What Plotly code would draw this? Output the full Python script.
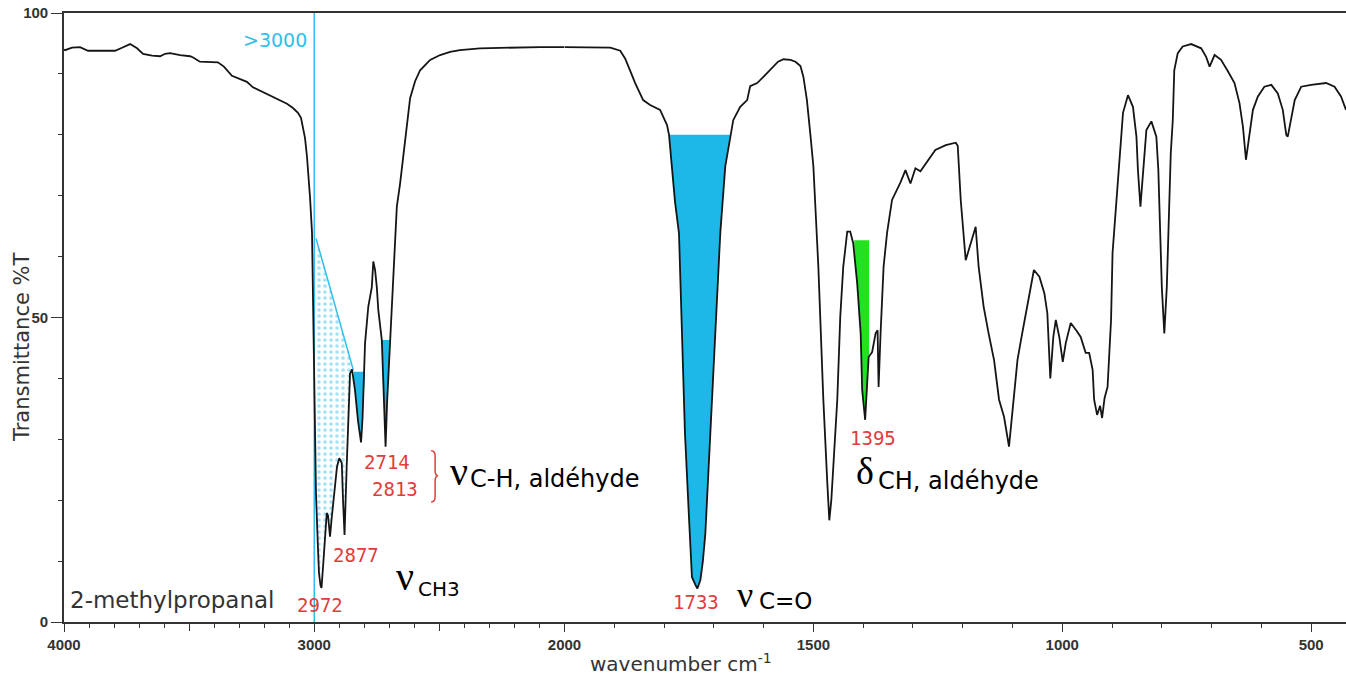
import numpy as np
import plotly.graph_objects as go

# ---------------- data ----------------
wavenumber = [
    4000, 3996, 3968, 3936, 3904, 3796, 3768, 3736, 3708, 3684, 3648, 3616, 3596, 3576,
    3536, 3496, 3484, 3457, 3385, 3361, 3329, 3297, 3269, 3245, 3209, 3177, 3145, 3109,
    3085, 3065, 3053, 3045, 3037, 3029, 3021, 3017, 3009, 3005, 3001, 2993, 2985, 2981,
    2975, 2971, 2965, 2957, 2950, 2945, 2937, 2930, 2917, 2909, 2900, 2890, 2885, 2879,
    2870, 2865, 2857, 2849, 2837, 2825, 2817, 2813, 2807, 2797, 2784, 2770, 2764, 2757,
    2750, 2744, 2730, 2721, 2715, 2709, 2697, 2684, 2677, 2670, 2657, 2645, 2633, 2617,
    2597, 2577, 2537, 2497, 2457, 2418, 2338, 2258, 2178, 2098, 2000,
    1949, 1908, 1888, 1878, 1868, 1858, 1842, 1828, 1808, 1794, 1790, 1784, 1778, 1770,
    1764, 1758, 1750, 1744, 1737, 1733, 1727, 1722, 1717, 1707, 1697, 1687, 1677, 1667,
    1661, 1647, 1633, 1627, 1613, 1597, 1583, 1571, 1560, 1546, 1536, 1526, 1520, 1513,
    1506, 1500, 1490, 1480, 1472, 1468, 1464, 1460, 1452, 1446, 1440, 1432, 1426, 1420,
    1412, 1405, 1402, 1396, 1393, 1389, 1382, 1375, 1371, 1369, 1365, 1359, 1352, 1342,
    1325, 1315, 1305, 1295, 1285, 1269, 1255, 1234, 1214, 1210, 1204, 1194, 1188, 1181,
    1174, 1168, 1158, 1148, 1137, 1127, 1117, 1107, 1097, 1090, 1083, 1070, 1057, 1046,
    1036, 1030, 1024, 1018, 1013, 1006, 999, 993, 983, 972, 963, 953, 946, 939, 936, 930,
    924, 920, 915, 909, 902, 899, 892, 885, 878, 868, 858, 851, 848, 843, 838, 831, 821,
    811, 807, 803, 800, 795, 790, 787, 782, 778, 775, 768, 758, 741, 721, 711, 704, 694,
    681, 667, 654, 644, 637, 631, 624, 617, 607, 594, 580, 567, 557, 550, 547, 540, 533,
    520, 500, 470, 453, 440, 430,
]
transmittance = [
    94.0, 93.9, 94.3, 94.4, 93.8, 93.8, 94.3, 94.9, 94.2, 93.3, 93.0, 92.9, 93.3, 93.4,
    93.1, 92.9, 92.7, 92.0, 91.9, 91.2, 89.7, 89.2, 88.7, 87.8, 87.1, 86.5, 85.8, 85.1,
    84.4, 83.6, 82.8, 81.3, 79.5, 76.4, 72.5, 69.8, 64.0, 52.0, 36.0, 21.0, 12.0, 8.0,
    6.0, 5.6, 9.0, 14.6, 17.9, 17.5, 14.0, 17.2, 22.2, 25.5, 26.9, 26.1, 20.0, 14.3,
    26.0, 33.0, 40.8, 41.5, 38.0, 33.0, 30.2, 29.5, 33.5, 45.8, 51.8, 55.0, 59.2, 57.8,
    55.0, 51.2, 46.3, 36.0, 28.8, 36.0, 46.3, 57.8, 63.3, 68.2, 72.0, 76.0, 81.0, 86.0,
    88.8, 90.6, 92.3, 93.1, 93.6, 93.9, 94.2, 94.3, 94.3, 94.4, 94.4,
    94.4, 94.3, 93.8, 92.5, 90.5, 88.5, 85.7, 84.9, 84.1, 81.6, 80.0, 74.8, 69.0, 63.8,
    47.4, 31.0, 17.3, 7.4, 6.1, 5.5, 6.9, 10.0, 14.6, 31.0, 47.5, 63.9, 74.8, 80.0,
    82.4, 84.6, 85.7, 88.0, 88.5, 89.8, 91.0, 92.0, 92.4, 92.3, 92.0, 91.3, 89.5, 85.7,
    80.0, 74.8, 58.3, 36.5, 22.8, 16.7, 20.0, 25.5, 36.5, 50.1, 58.3, 64.1, 64.1, 62.2,
    55.6, 47.4, 38.1, 33.2, 38.6, 43.5, 44.3, 47.4, 47.9, 38.6, 47.4, 58.3, 63.9, 69.3,
    72.2, 74.2, 72.0, 74.5, 74.0, 75.9, 77.5, 78.3, 78.7, 78.2, 69.3, 59.4, 61.0, 62.7,
    64.9, 58.3, 51.8, 47.4, 43.0, 36.5, 33.7, 28.8, 36.5, 43.0, 46.3, 52.4, 57.8, 56.7,
    54.0, 50.7, 40.0, 46.8, 49.6, 46.8, 42.7, 45.8, 49.1, 47.9, 46.8, 44.2, 44.2, 41.4, 36.5, 34.0,
    35.5, 33.5, 36.8, 38.6, 49.6, 60.6, 68.8, 77.0, 83.6, 86.5, 84.6, 79.7, 74.2, 68.2, 74.2, 80.8, 82.2,
    79.7, 74.2, 64.9, 55.0, 47.4, 55.0, 63.3, 77.0, 82.4, 90.6, 93.4, 94.5, 94.9, 94.2, 92.8, 91.2, 93.1,
    92.3, 90.4, 88.5, 85.2, 81.3, 75.9, 79.7, 84.1, 86.3, 87.9, 88.2, 86.8, 84.1, 80.0, 79.7, 83.0, 85.7,
    87.9, 88.2, 88.5, 87.9, 86.3, 84.1,
]

# axis tick values
upper_labels = [4000, 3000, 2000]
upper_long_unlabelled = [3500, 2500]
lower_labels = [1500, 1000, 500]
y_labels = [0, 50, 100]

# shaded bands: (high wavenumber, low wavenumber, top level %T)
co_band = (1790, 1667, 80.0)
ch_aldehyde_bands = [(2842, 2797, 41.1), (2730, 2697, 46.3)]
dch_band = (1418, 1388, 62.7)
# dotted C-H (>3000 baseline) region: straight baseline end points
baseline_wn = [2993, 2844]
baseline_T = [63.0, 41.4]
marker_wn = 3000

x_break = 2000
x_start, x_end = 4000, 430

# ---------------- helpers ----------------
wn = np.array(wavenumber, dtype=float)
T = np.array(transmittance, dtype=float)
wn_inc, T_inc = wn[::-1], T[::-1]


def curve_at(x):
    return float(np.interp(x, wn_inc, T_inc))


def band_polygon(hi, lo, top):
    m = (wn < hi) & (wn > lo)
    xs = np.concatenate(([hi], wn[m], [lo, lo, hi]))
    ys = np.concatenate(([min(curve_at(hi), top)], np.minimum(T[m], top),
                         [min(curve_at(lo), top), top, top]))
    return xs, ys


W, H = 1346, 677
L, R, TOP, BOT = 64, 0, 13, 55
plot_w = W - L - R
plot_h = H - TOP - BOT
split = 500.5 / plot_w


def pp(px, py):
    return (px - L) / plot_w, (H - BOT - py) / plot_h


CYAN = "#2EBFEA"
FILL_CYAN = "#1DB8E8"
GREEN = "#22E022"
RED = "#E23C3C"

fig = go.Figure()

# dotted region (left of 2850, under the >3000 baseline)
hi_b, lo_b = baseline_wn[0], baseline_wn[1]
m = (wn > lo_b) & (wn < hi_b)
dx = np.concatenate(([hi_b, lo_b], wn[m][::-1], [hi_b]))
dy = np.concatenate(([baseline_T[0], baseline_T[1]], T[m][::-1], [curve_at(hi_b)]))
fig.add_trace(go.Scatter(x=dx, y=dy, mode="lines", fill="toself",
                         fillcolor="rgba(0,0,0,0)", line=dict(width=0),
                         fillpattern=dict(shape=".", fgcolor="#4CC6EE",
                                          bgcolor="rgba(255,255,255,0)",
                                          size=6, solidity=0.3),
                         xaxis="x", yaxis="y", hoverinfo="skip"))
fig.add_trace(go.Scatter(x=baseline_wn, y=baseline_T, mode="lines",
                         line=dict(color=CYAN, width=1.5), xaxis="x", yaxis="y",
                         hoverinfo="skip"))

# cyan C-H aldehyde bands
for hi, lo, top in ch_aldehyde_bands:
    bx, by = band_polygon(hi, lo, top)
    fig.add_trace(go.Scatter(x=bx, y=by, mode="lines", fill="toself",
                             fillcolor=FILL_CYAN, line=dict(width=0),
                             xaxis="x", yaxis="y", hoverinfo="skip"))

# C=O band
bx, by = band_polygon(*co_band)
fig.add_trace(go.Scatter(x=bx, y=by, mode="lines", fill="toself",
                         fillcolor=FILL_CYAN, line=dict(width=0),
                         xaxis="x2", yaxis="y", hoverinfo="skip"))
# delta CH band
bx, by = band_polygon(*dch_band)
fig.add_trace(go.Scatter(x=bx, y=by, mode="lines", fill="toself",
                         fillcolor=GREEN, line=dict(width=0),
                         xaxis="x2", yaxis="y", hoverinfo="skip"))

# 3000 marker line
fig.add_trace(go.Scatter(x=[marker_wn, marker_wn], y=[0, 100], mode="lines",
                         line=dict(color=CYAN, width=1.5), xaxis="x", yaxis="y",
                         hoverinfo="skip"))

# spectrum (two segments, two x scales)
m1 = wn >= x_break
m2 = wn <= x_break
fig.add_trace(go.Scatter(x=wn[m1], y=T[m1], mode="lines",
                         line=dict(color="#151515", width=1.8), xaxis="x", yaxis="y"))
fig.add_trace(go.Scatter(x=wn[m2], y=T[m2], mode="lines",
                         line=dict(color="#151515", width=1.8), xaxis="x2", yaxis="y"))
# empty trace so the overlay axis (long unlabelled ticks) is drawn
fig.add_trace(go.Scatter(x=[], y=[], xaxis="x3", yaxis="y", hoverinfo="skip"))

# red brace for the two aldehyde C-H bands
fig.add_shape(type="path", xref="x", yref="y",
              path="M 2533,28.1 Q 2517,28.1 2517,27.2 L 2517,24.9 Q 2517,24.0 2505,24.0 "
                   "Q 2517,24.0 2517,23.1 L 2517,20.6 Q 2517,19.7 2533,19.7",
              line=dict(color=RED, width=1.5))

tickfont = dict(family="Liberation Sans", size=15, color="#333", weight="bold")
axis_common = dict(showgrid=False, zeroline=False, showline=True, linecolor="#333",
                   linewidth=1.6, mirror=True, ticks="outside", tickcolor="#333",
                   tickwidth=1.2, ticklen=8, tickfont=tickfont, automargin=False)
minor_x = dict(dtick=100, tick0=0, ticks="outside", ticklen=4,
               tickcolor="#333", tickwidth=1.2)

fig.update_layout(
    width=W, height=H, margin=dict(l=L, r=R, t=TOP, b=BOT, autoexpand=False),
    plot_bgcolor="white", paper_bgcolor="white", showlegend=False,
    xaxis=dict(domain=[0, split], range=[x_start, x_break], anchor="y",
               tickvals=upper_labels, ticktext=[str(v) for v in upper_labels],
               minor=minor_x, **axis_common),
    xaxis2=dict(domain=[split, 1], range=[x_break, x_end], anchor="y",
                tickvals=lower_labels, ticktext=[str(v) for v in lower_labels],
                minor=minor_x, **axis_common),
    xaxis3=dict(domain=[0, split], range=[x_start, x_break], anchor="y",
                overlaying="x", side="bottom", tickvals=upper_long_unlabelled,
                showticklabels=False, ticks="outside", ticklen=8, tickwidth=1.2,
                tickcolor="#333", showline=False, showgrid=False, zeroline=False,
                automargin=False),
    yaxis=dict(range=[0, 100], domain=[0, 1], showgrid=False, zeroline=False,
               showline=True, linecolor="#333", linewidth=1.6, ticks="outside",
               tickcolor="#333", tickwidth=1.2, ticklen=11, automargin=False,
               tickvals=y_labels, ticktext=[str(v) for v in y_labels],
               tickfont=tickfont,
               minor=dict(dtick=10, ticks="outside", ticklen=4, tickcolor="#333",
                          tickwidth=1.2)),
)

annotations = []


def ann(text, px, py, size, color="black", family="DejaVu Sans", xanchor="center",
        angle=0):
    x, y = pp(px, py)
    annotations.append(dict(text=text, x=x, y=y, xref="paper", yref="paper",
                            xanchor=xanchor, yanchor="middle", showarrow=False,
                            textangle=angle,
                            font=dict(size=size, color=color, family=family)))


MONO = "DejaVu Sans Mono"
SERIF = "Liberation Serif"
ann("2972", 320, 605, 19, RED, MONO)
ann("2877", 356, 555, 19, RED, MONO)
ann("2714", 387, 462, 19, RED, MONO)
ann("2813", 395, 489, 19, RED, MONO)
ann("1733", 696, 602, 19, RED, MONO)
ann("1395", 873, 438, 19, RED, MONO)

ann("ν", 459, 471, 40, family=SERIF)
ann("C-H, aldéhyde", 468, 479, 24, xanchor="left")
ann("ν", 405, 576, 40, family=SERIF)
ann("CH3", 416, 589, 20, xanchor="left")
ann("ν", 745, 595, 36, family=SERIF)
ann("C=O", 757, 601, 23, xanchor="left")
ann("δ", 865, 471, 38, family=SERIF)
ann("CH, aldéhyde", 876, 481, 24, xanchor="left")

ann("&gt;3000", 275, 40, 19, CYAN)
ann("2-methylpropanal", 68, 600, 23, "#333", xanchor="left")
ann("Transmittance %T", 22, 347, 21, "#333", angle=-90)
ann("wavenumber cm<sup>-1</sup>", 681, 663, 20, "#333")

fig.update_layout(annotations=annotations)

fig.write_html("out.html", config={"responsive": False})
